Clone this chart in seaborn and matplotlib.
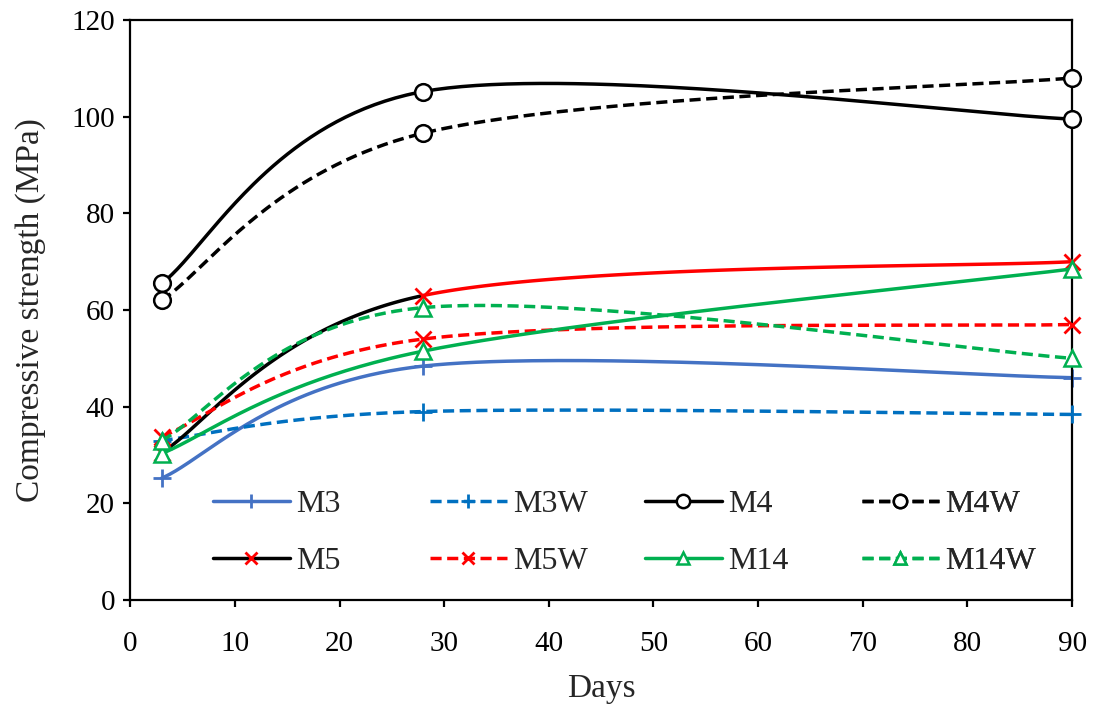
import numpy as np
import matplotlib
matplotlib.use("Agg")
import matplotlib.pyplot as plt
from matplotlib.lines import Line2D
import seaborn as sns

# Curing age (days) and compressive strength (MPa) per mix
days = [3, 28, 90]
m3 = [25.2, 48.4, 46.0]
m3w = [33.0, 39.0, 38.4]
m4 = [65.5, 105.2, 99.5]
m4w = [62.0, 96.6, 108.0]
m5 = [30.5, 63.0, 70.0]
m5w = [33.8, 54.0, 57.0]
m14 = [30.3, 51.5, 68.5]
m14w = [33.0, 60.5, 50.0]

labels = ["M3", "M3W", "M4", "M4W", "M5", "M5W", "M14", "M14W"]

sns.set_theme(style="ticks")
plt.rcParams["font.family"] = ["Liberation Serif", "DejaVu Serif"]

BLUE = "#4472C4"
BLUE2 = "#0070C0"
RED = "#FF0000"
GREEN = "#00B050"
BLACK = "#000000"
LW = 2.5
DASH = (0, (3.2, 1.6))


def smooth(x, y, n=80):
    """Bezier smoothing through the points (spreadsheet-style smoothed line)."""
    P = np.column_stack([x, y]).astype(float)
    out = []
    for i in range(len(P) - 1):
        p0 = P[i - 1] if i > 0 else P[i]
        p1, p2 = P[i], P[i + 1]
        p3 = P[i + 2] if i + 2 < len(P) else P[i + 1]
        c1 = p1 + (p2 - p0) / 6.0
        c2 = p2 - (p3 - p1) / 6.0
        t = np.linspace(0, 1, n)[:, None]
        seg = (1 - t) ** 3 * p1 + 3 * (1 - t) ** 2 * t * c1 + 3 * (1 - t) * t ** 2 * c2 + t ** 3 * p2
        out.append(seg if i == 0 else seg[1:])
    return np.vstack(out), n


fig = plt.figure(figsize=(10.94, 7.07), dpi=100)
ax = fig.add_axes([0.119, 0.1513, 0.861, 0.8204])

series = [
    (m3, BLUE, "-", "+", BLUE, BLUE),
    (m3w, BLUE2, DASH, "+", BLUE2, BLUE2),
    (m4, BLACK, "-", "o", "white", BLACK),
    (m4w, BLACK, DASH, "o", "white", BLACK),
    (m5, BLACK, "-", "x", RED, RED),
    (m5w, RED, DASH, "x", RED, RED),
    (m14, GREEN, "-", "^", "white", GREEN),
    (m14w, GREEN, DASH, "^", "white", GREEN),
]

msizes = {"+": 13, "o": 12, "x": 11, "^": 11}
mews = {"+": 2.0, "o": 1.8, "x": 2.0, "^": 1.8}

for k, (vals, col, ls, mk, mfc, mec) in enumerate(series):
    curve, n = smooth(days, vals)
    z = 2 + k
    if labels[k] == "M5":
        # first segment black, later segment red
        sns.lineplot(x=curve[:n, 0], y=curve[:n, 1], sort=False, estimator=None,
                     color=BLACK, linestyle=ls, lw=LW, ax=ax, zorder=z)
        sns.lineplot(x=curve[n - 1:, 0], y=curve[n - 1:, 1], sort=False, estimator=None,
                     color=RED, linestyle=ls, lw=LW, ax=ax, zorder=z)
    else:
        sns.lineplot(x=curve[:, 0], y=curve[:, 1], sort=False, estimator=None,
                     color=col, linestyle=ls, lw=LW, ax=ax, zorder=z)
    ax.plot(days, vals, linestyle="none", marker=mk, markersize=msizes[mk],
            markerfacecolor=mfc, markeredgecolor=mec, markeredgewidth=mews[mk],
            zorder=z + 0.5, clip_on=False)

ax.set_xlim(0, 90)
ax.set_ylim(0, 120)
ax.set_xticks(range(0, 91, 10))
ax.set_yticks(range(0, 121, 20))
for s in ax.spines.values():
    s.set_visible(True)
    s.set_linewidth(1.6)
    s.set_color("black")
ax.tick_params(axis="both", direction="out", length=5, width=1.6, colors="black",
               labelsize=21, top=False, right=False)
ax.tick_params(axis="x", pad=17)
ax.tick_params(axis="y", pad=6)
ax.set_xlabel("Days", fontsize=24, labelpad=12)
ax.set_ylabel("Compressive strength (MPa)", fontsize=24, labelpad=18)

# Legend laid out as four fixed-width columns of two rows
handles = []
for k, (vals, col, ls, mk, mfc, mec) in enumerate(series):
    handles.append(Line2D([], [], color=col, linestyle=ls, lw=LW, marker=mk,
                          markersize=msizes[mk] * 0.8, markerfacecolor=mfc,
                          markeredgecolor=mec, markeredgewidth=mews[mk]))

col_x = [213, 430, 645, 862]
ax_left, ax_w = 130.2, 942.0
for c in range(4):
    idx = [c, c + 4]
    leg = ax.legend([handles[i] for i in idx], [labels[i] for i in idx],
                    loc="center left",
                    bbox_to_anchor=((col_x[c] - ax_left) / ax_w, 0.116),
                    frameon=False, fontsize=23, handlelength=2.4,
                    handletextpad=0.2, labelspacing=0.88, borderpad=0,
                    borderaxespad=0)
    ax.add_artist(leg)

fig.savefig("out.png", dpi=100)
